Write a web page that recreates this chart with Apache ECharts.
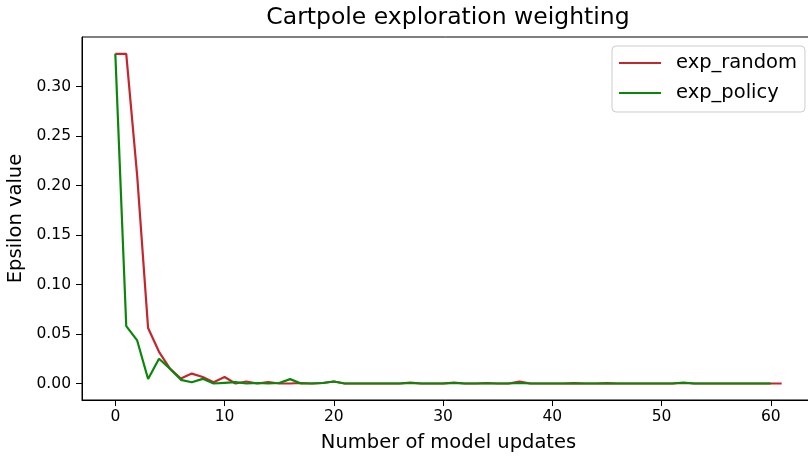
<!DOCTYPE html>
<html>
<head>
<meta charset="utf-8">
<script src="https://cdn.jsdelivr.net/npm/echarts@6/dist/echarts.min.js"></script>
<style>html,body{margin:0;padding:0;background:#fff;}#c{width:808px;height:456px;}</style>
</head>
<body>
<div id="c"></div>
<script>
var expRandom = [0.333, 0.333, 0.21, 0.056, 0.032, 0.015, 0.005, 0.010, 0.0065, 0.0013, 0.0065, 0, 0.002, 0, 0.0015, 0, 0, 0.0005, 0, 0.0005, 0.002, 0, 0, 0, 0, 0, 0, 0.0008, 0, 0, 0, 0.0008, 0, 0, 0.0005, 0, 0, 0.002, 0, 0, 0, 0, 0.0003, 0, 0, 0.0003, 0, 0, 0, 0, 0, 0, 0.0005, 0, 0, 0, 0, 0, 0, 0, 0, 0];
var expPolicy = [0.333, 0.058, 0.0435, 0.0045, 0.025, 0.015, 0.0037, 0.0013, 0.0047, 0, 0.0007, 0.0013, 0, 0.0005, 0, 0.0005, 0.0044, 0, 0, 0.0005, 0.002, 0, 0, 0, 0, 0, 0, 0.0005, 0, 0, 0, 0.0005, 0, 0, 0, 0, 0, 0.0005, 0, 0, 0, 0, 0, 0, 0, 0, 0, 0, 0, 0, 0, 0, 0.001, 0, 0, 0, 0, 0, 0, 0, 0];
var xTicks = [0, 10, 20, 30, 40, 50, 60];
var yTicks = [0, 0.05, 0.10, 0.15, 0.20, 0.25, 0.30];

function pairs(arr){ return arr.map(function(v,i){ return [i, v]; }); }

var FONT = 'DejaVu Sans';
var chart = echarts.init(document.getElementById('c'), null, {renderer:'canvas'});
chart.setOption({
  animation: false,
  backgroundColor: '#fff',
  textStyle: {fontFamily: FONT},
  graphic: [{
    type: 'text', x: 448, y: 18, z: 10,
    style: {text: 'Cartpole exploration weighting', fontFamily: FONT, fontSize: 23.5, fill: '#000', textAlign: 'center', textVerticalAlign: 'middle'}
  }],
  grid: {left: 82, top: 37, width: 733, height: 363, show: true, borderColor: '#000', borderWidth: 1,
         containLabel: false, outerBoundsMode: 'none'},
  legend: {
    orient: 'vertical', left: 612, top: 46,
    data: ['exp_random', 'exp_policy'],
    icon: 'rect', itemWidth: 42, itemHeight: 2,
    itemGap: 10,
    padding: [7, 8, 9, 7],
    borderColor: '#cccccc', borderWidth: 1, borderRadius: 4,
    backgroundColor: 'rgba(255,255,255,0.8)',
    textStyle: {fontFamily: FONT, fontSize: 19.5, color: '#000', padding: [0,0,0,10]}
  },
  xAxis: {
    type: 'value', min: -3.05, max: 64.05, position: 'bottom',
    name: 'Number of model updates', nameLocation: 'middle', nameGap: 33,
    nameTextStyle: {fontFamily: FONT, fontSize: 19.5, color: '#000'},
    axisLine: {show: true, onZero: false, lineStyle: {color: '#000', width: 1}},
    axisTick: {show: true, customValues: xTicks, length: 6, lineStyle: {color: '#000'}},
    axisLabel: {customValues: xTicks, fontFamily: FONT, fontSize: 15.5, color: '#000', margin: 9},
    splitLine: {show: false}
  },
  yAxis: {
    type: 'value', min: -0.01667, max: 0.35,
    name: 'Epsilon value', nameLocation: 'middle', nameGap: 52,
    nameTextStyle: {fontFamily: FONT, fontSize: 19.5, color: '#000'},
    axisLine: {show: true, onZero: false, lineStyle: {color: '#000', width: 1}},
    axisTick: {show: true, customValues: yTicks, length: 6, lineStyle: {color: '#000'}},
    axisLabel: {customValues: yTicks, fontFamily: FONT, fontSize: 15.5, color: '#000', margin: 11,
      formatter: function(v){ return v.toFixed(2); }},
    splitLine: {show: false}
  },
  series: [
    {name: 'exp_random', type: 'line', data: pairs(expRandom), showSymbol: false, symbol: 'none',
     lineStyle: {color: '#c4262e', width: 2.2}, itemStyle: {color: '#c4262e'}, z: 2},
    {name: 'exp_policy', type: 'line', data: pairs(expPolicy), showSymbol: false, symbol: 'none',
     lineStyle: {color: '#0a870a', width: 2.2}, itemStyle: {color: '#0a870a'}, z: 3}
  ]
});
</script>
</body>
</html>
